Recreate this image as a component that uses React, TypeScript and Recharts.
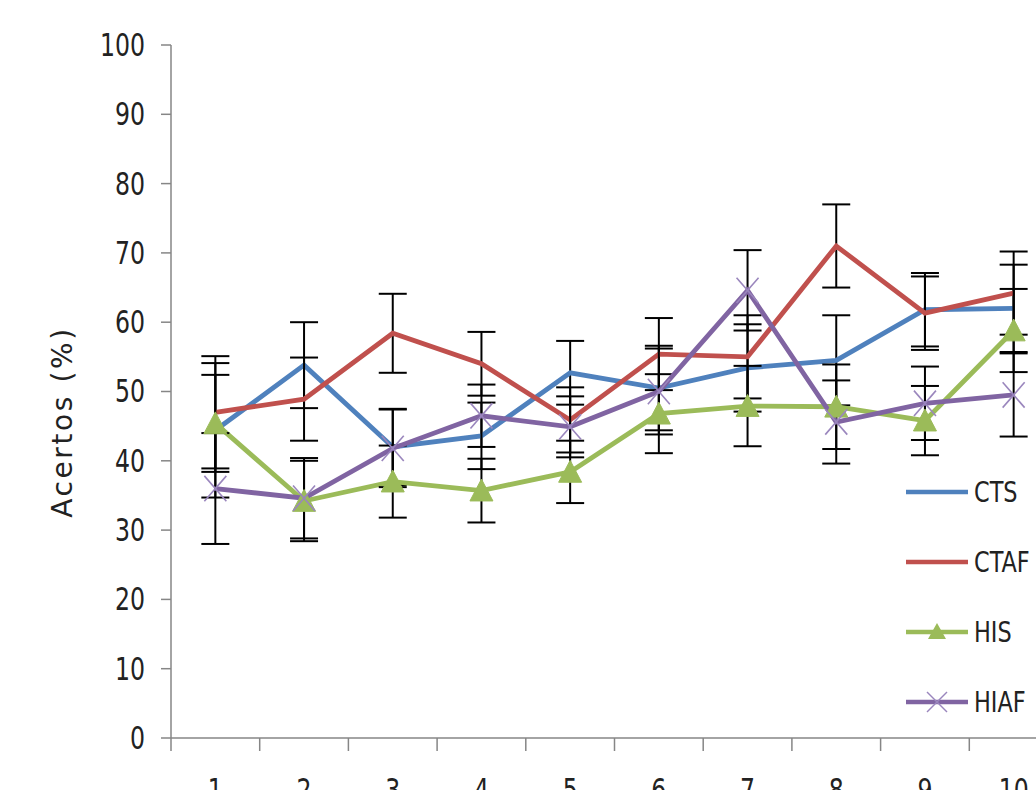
import React from 'react';
import { LineChart, Line, XAxis, YAxis, ErrorBar, Legend, Label } from 'recharts';

const categories = ['1', '2', '3', '4', '5', '6', '7', '8', '9', '10'];
const cts = [44.4, 53.8, 42, 43.6, 52.7, 50.5, 53.4, 54.5, 61.8, 62];
const ctsErr = [9.7, 6.2, 5.5, 4.8, 4.6, 6.1, 6.3, 6.5, 5.3, 6.3];
const ctaf = [47, 48.9, 58.4, 54, 45.9, 55.4, 55, 71, 61.3, 64.2];
const ctafErr = [8.1, 6, 5.7, 4.6, 4.7, 5.2, 6, 6, 5.3, 6];
const his = [45.4, 34.2, 37, 35.7, 38.4, 46.8, 47.9, 47.8, 45.8, 58.8];
const hisErr = [7, 5.8, 5.2, 4.6, 4.5, 5.7, 5.8, 6.1, 5, 6];
const hiaf = [36, 34.6, 41.8, 46.5, 44.9, 50, 64.6, 45.6, 48.3, 49.5];
const hiafErr = [8, 5.8, 5.6, 4.5, 4.4, 6.2, 5.8, 6, 5.3, 6];
const yTicks = [0, 10, 20, 30, 40, 50, 60, 70, 80, 90, 100];

const data = categories.map((c, i) => ({
  x: c,
  cts: cts[i], ctsErr: ctsErr[i],
  ctaf: ctaf[i], ctafErr: ctafErr[i],
  his: his[i], hisErr: hisErr[i],
  hiaf: hiaf[i], hiafErr: hiafErr[i],
}));

const C_CTS = '#4F81BD';
const C_CTAF = '#C0504D';
const C_HIS = '#9BBB59';
const C_HIAF = '#8064A2';
const C_HIAF_X = '#9a86bd';
const AXIS = '#868686';
const TEXT = '#222';
const TICK_FONT = '"DejaVu Sans Condensed", "Liberation Sans", sans-serif';
const SQUEEZE = 0.82;

const CHART_W = 1100;
const CHART_H = 818;
const MARGIN = { top: 45, right: 42, left: 0, bottom: 0 };
const Y_W = 171;
const X_H = 80;
const BAND = (CHART_W - MARGIN.left - MARGIN.right - Y_W) / categories.length;

const TriangleDot = (props: any) => {
  const { cx, cy, index } = props;
  if (cx == null || cy == null) return <g key={index} />;
  const s = 11.5;
  return (
    <path
      key={index}
      d={`M${cx},${cy - s} L${cx + s},${cy + s * 0.9} L${cx - s},${cy + s * 0.9} Z`}
      fill={C_HIS}
      stroke={C_HIS}
      strokeWidth={1}
    />
  );
};

const XDot = (props: any) => {
  const { cx, cy, index } = props;
  if (cx == null || cy == null) return <g key={index} />;
  const s = 11;
  return (
    <g key={index}>
      <line x1={cx - s} y1={cy - s * 1.15} x2={cx + s} y2={cy + s * 1.15} stroke={C_HIAF_X} strokeWidth={1.6} />
      <line x1={cx - s} y1={cy + s * 1.15} x2={cx + s} y2={cy - s * 1.15} stroke={C_HIAF_X} strokeWidth={1.6} />
    </g>
  );
};

const XTick = (props: any) => {
  const { x, y, payload, index } = props;
  const half = BAND / 2;
  return (
    <g>
      <line x1={x - half} x2={x - half} y1={y} y2={y + 13} stroke={AXIS} strokeWidth={1.5} />
      {index === categories.length - 1 && (
        <line x1={x + half} x2={x + half} y1={y} y2={y + 13} stroke={AXIS} strokeWidth={1.5} />
      )}
      <g transform={`translate(${x},${y + 40}) scale(${SQUEEZE},1)`}>
        <text x={0} y={0} dy="0.71em" textAnchor="middle" fontFamily={TICK_FONT} fontSize={32} fill={TEXT}>
          {payload.value}
        </text>
      </g>
    </g>
  );
};

const YTick = (props: any) => {
  const { x, y, payload } = props;
  return (
    <g transform={`translate(${x},${y}) scale(${SQUEEZE},1)`}>
      <text x={0} y={0} textAnchor="end" dominantBaseline="central" fontFamily={TICK_FONT} fontSize={32} fill={TEXT}>
        {payload.value}
      </text>
    </g>
  );
};

const legendItems = [
  { name: 'CTS', color: C_CTS, marker: 'none' },
  { name: 'CTAF', color: C_CTAF, marker: 'none' },
  { name: 'HIS', color: C_HIS, marker: 'tri' },
  { name: 'HIAF', color: C_HIAF, marker: 'x' },
];

const LegendContent = () => (
  <svg width={140} height={260} style={{ overflow: 'visible' }}>
    {legendItems.map((it, i) => {
      const y = 22 + i * 70;
      return (
        <g key={it.name}>
          <line x1={6} x2={68} y1={y} y2={y} stroke={it.color} strokeWidth={4.5} />
          {it.marker === 'tri' && (
            <path d={`M37,${y - 9} L46,${y + 7} L28,${y + 7} Z`} fill={C_HIS} />
          )}
          {it.marker === 'x' && (
            <g>
              <line x1={27} y1={y - 10} x2={47} y2={y + 10} stroke={C_HIAF_X} strokeWidth={1.5} />
              <line x1={27} y1={y + 10} x2={47} y2={y - 10} stroke={C_HIAF_X} strokeWidth={1.5} />
            </g>
          )}
          <g transform={`translate(74,${y}) scale(${SQUEEZE + 0.04},1)`}>
            <text x={0} y={0} dominantBaseline="central" fontFamily={TICK_FONT} fontSize={29} fill={TEXT}>
              {it.name}
            </text>
          </g>
        </g>
      );
    })}
  </svg>
);

export default function App() {
  return (
    <div style={{ position: 'absolute', left: 0, top: 0, width: 1036, height: 790, overflow: 'hidden', background: '#fff' }}>
      <LineChart width={CHART_W} height={CHART_H} data={data} margin={MARGIN}>
        <XAxis
          dataKey="x"
          height={X_H}
          padding={{ left: BAND / 2, right: BAND / 2 }}
          axisLine={{ stroke: AXIS, strokeWidth: 1.5 }}
          tickLine={false}
          tickSize={0}
          tickMargin={0}
          tick={<XTick />}
          interval={0}
        />
        <YAxis
          width={Y_W}
          domain={[0, 100]}
          ticks={yTicks}
          interval={0}
          axisLine={{ stroke: AXIS, strokeWidth: 1.5 }}
          tickLine={{ stroke: AXIS, strokeWidth: 1.5 }}
          tickSize={10}
          tickMargin={16}
          tick={<YTick />}
        >
          <Label
            content={() => (
              <text
                x={62}
                y={422}
                transform="rotate(-90 62 422)"
                textAnchor="middle"
                dominantBaseline="central"
                fontFamily='"DejaVu Sans", sans-serif'
                fontSize={28}
                letterSpacing={2.6}
                fill={TEXT}
              >
                Acertos (%)
              </text>
            )}
          />
        </YAxis>
        <Legend
          layout="vertical"
          align="center"
          verticalAlign="middle"
          content={<LegendContent />}
          wrapperStyle={{ position: 'absolute', left: 900, top: 470, width: 140, height: 260 }}
        />
        <Line dataKey="cts" name="CTS" stroke={C_CTS} strokeWidth={4.8} dot={false} activeDot={false} isAnimationActive={false}>
          <ErrorBar dataKey="ctsErr" width={14} stroke="#000" strokeWidth={2} direction="y" />
        </Line>
        <Line dataKey="ctaf" name="CTAF" stroke={C_CTAF} strokeWidth={4.8} dot={false} activeDot={false} isAnimationActive={false}>
          <ErrorBar dataKey="ctafErr" width={14} stroke="#000" strokeWidth={2} direction="y" />
        </Line>
        <Line dataKey="his" name="HIS" stroke={C_HIS} strokeWidth={4.8} dot={<TriangleDot />} activeDot={false} isAnimationActive={false}>
          <ErrorBar dataKey="hisErr" width={14} stroke="#000" strokeWidth={2} direction="y" />
        </Line>
        <Line dataKey="hiaf" name="HIAF" stroke={C_HIAF} strokeWidth={4.8} dot={<XDot />} activeDot={false} isAnimationActive={false}>
          <ErrorBar dataKey="hiafErr" width={14} stroke="#000" strokeWidth={2} direction="y" />
        </Line>
      </LineChart>
    </div>
  );
}
